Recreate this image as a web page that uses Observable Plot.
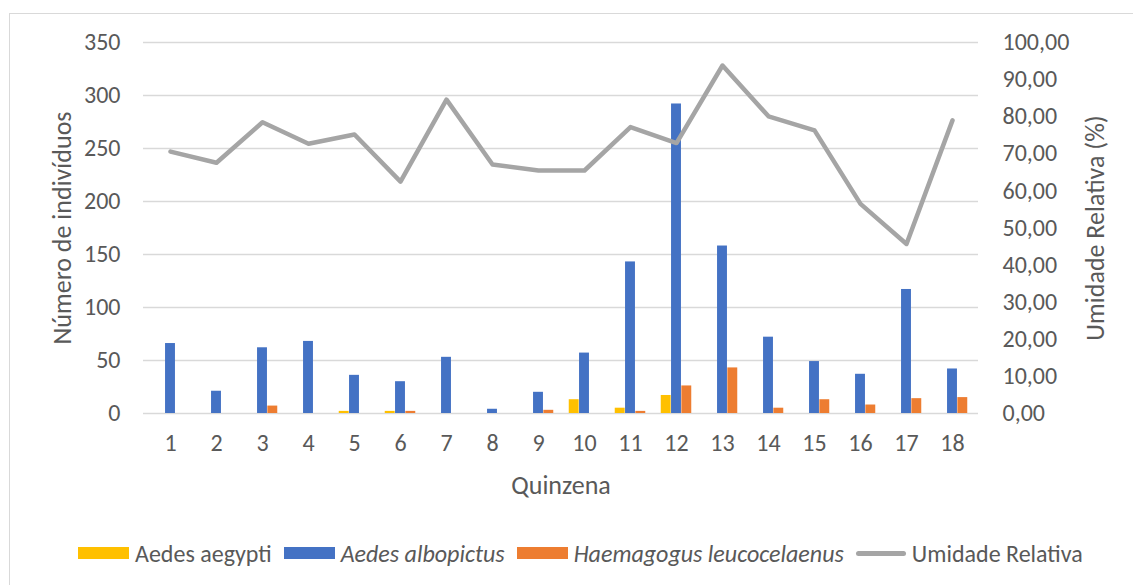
<!DOCTYPE html>
<html>
<head>
<meta charset="utf-8">
<script src="https://cdn.jsdelivr.net/npm/d3@7"></script>
<script src="https://cdn.jsdelivr.net/npm/@observablehq/plot@0.6"></script>
<style>
  html, body { margin: 0; padding: 0; background: #fff; overflow: hidden; }
  body { width: 1133px; height: 585px; position: relative; font-family: Carlito, Lato, sans-serif; }
  #frame { position: absolute; left: 9px; top: 13px; width: 1300px; height: 800px; border: 1px solid #d9d9d9; box-sizing: border-box; }
  #chart { position: absolute; left: 0; top: 0; }
  #legend { position: absolute; left: 78px; top: 537px; height: 32px; display: flex; align-items: center; font-size: 24px; color: #595959; white-space: nowrap; }
  .item { display: flex; align-items: center; margin-right: 12px; }
  .sw { width: 51px; height: 12px; margin-right: 6px; }
  .ln { width: 50px; height: 5px; border-radius: 3px; margin-right: 6px; background: #a5a5a5; }
  .it { font-style: italic; }
</style>
</head>
<body>
<div id="frame"></div>
<div id="chart"></div>
<div id="legend"></div>
<script>
const quinzenas = [1,2,3,4,5,6,7,8,9,10,11,12,13,14,15,16,17,18];
const aegypti    = [0,0,0,0,2,2,0,0,0,13,5,17,0,0,0,0,0,0];
const albopictus = [66,21,62,68,36,30,53,4,20,57,143,292,158,72,49,37,117,42];
const haemagogus = [0,0,7,0,0,2,0,0,3,0,2,26,43,5,13,8,14,15];
const humidity   = [70.6,67.6,78.5,72.7,75.2,62.5,84.6,67.1,65.5,65.5,77.2,72.9,93.8,80.1,76.3,56.5,45.7,79.0];
const leftTicks  = [0,50,100,150,200,250,300,350];
const rightTicks = [0,10,20,30,40,50,60,70,80,90,100];

const series = [
  {name: "Aedes aegypti", values: aegypti, color: "#FFC000", italic: false},
  {name: "Aedes albopictus", values: albopictus, color: "#4472C4", italic: true},
  {name: "Haemagogus leucocelaenus", values: haemagogus, color: "#ED7D31", italic: true}
];
const hum = {name: "Umidade Relativa", color: "#A5A5A5"};

const rows = quinzenas.map((q, i) => ({q, a: aegypti[i], b: albopictus[i], c: haemagogus[i], h: humidity[i]}));
const ratio = 350 / 100;

const W = 1133, H = 510;
const mL = 143, mR = W - 978, mT = 42, mB = H - 413;
const band = (W - mL - mR) / quinzenas.length;
const bw = 10.3;
const inset = (band - bw) / 2;

const fmt = d => (d).toFixed(2).replace(".", ",");

const barMark = (key, color, off) => Plot.barY(rows, {
  x: "q", y: key, fill: color, insetLeft: inset, insetRight: inset, dx: off
});

const chart = Plot.plot({
  width: W, height: H,
  marginLeft: mL, marginRight: mR, marginTop: mT, marginBottom: mB,
  style: {fontFamily: "Carlito, Lato, sans-serif", color: "#595959", background: "transparent", overflow: "visible"},
  x: {type: "band", domain: quinzenas, padding: 0},
  y: {domain: [0, 350]},
  marks: [
    Plot.ruleY(leftTicks, {stroke: "#d9d9d9", strokeWidth: 1.5}),
    barMark("a", series[0].color, -bw),
    barMark("b", series[1].color, 0),
    barMark("c", series[2].color, bw),
    Plot.line(rows, {x: "q", y: d => d.h * ratio, stroke: hum.color, strokeWidth: 4.5, strokeLinejoin: "round", strokeLinecap: "round"}),
    Plot.axisY({anchor: "left", ticks: leftTicks, tickSize: 0, tickPadding: 23, fontSize: 24, label: null}),
    Plot.axisY({anchor: "right", ticks: rightTicks.map(v => v * ratio), tickFormat: v => fmt(v / ratio), tickSize: 0, tickPadding: 24, fontSize: 24, label: null}),
    Plot.axisX({ticks: quinzenas, tickSize: 0, tickPadding: 20, fontSize: 24, label: null}),
    Plot.text(["Número de indivíduos"], {frameAnchor: "left", textAnchor: "middle", text: d => d, rotate: -90, dx: -81, fontSize: 26, fill: "#595959"}),
    Plot.text(["Umidade Relativa (%)"], {frameAnchor: "right", textAnchor: "middle", text: d => d, rotate: -90, dx: 117, fontSize: 26, fill: "#595959"}),
    Plot.text(["Quinzena"], {frameAnchor: "bottom", text: d => d, dy: 80, fontSize: 26, fill: "#595959"})
  ]
});
document.getElementById("chart").appendChild(chart);

const leg = document.getElementById("legend");
for (const s of series) {
  const it = document.createElement("div");
  it.className = "item";
  it.innerHTML = `<div class="sw" style="background:${s.color}"></div><span class="${s.italic ? "it" : ""}">${s.name}</span>`;
  leg.appendChild(it);
}
const li = document.createElement("div");
li.className = "item";
li.innerHTML = `<div class="ln"></div><span>${hum.name}</span>`;
leg.appendChild(li);
</script>
</body>
</html>
